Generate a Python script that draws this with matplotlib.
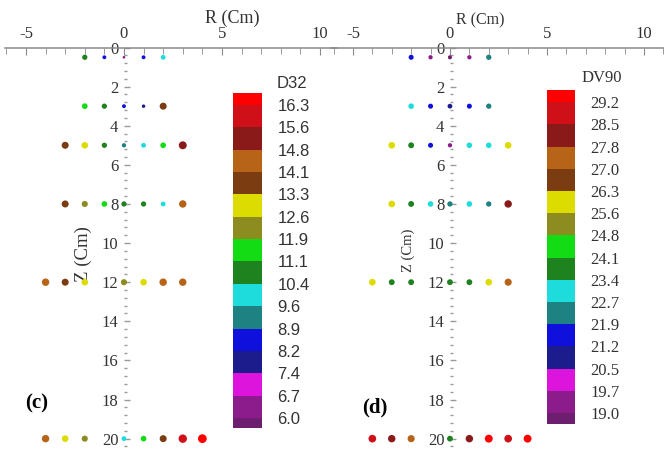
import matplotlib
matplotlib.use('Agg')
import matplotlib.pyplot as plt
from matplotlib.colors import ListedColormap, BoundaryNorm
from matplotlib.cm import ScalarMappable
from matplotlib.ticker import MultipleLocator
import numpy as np

plt.rcParams['axes.unicode_minus'] = False

# band colours, low -> high
band_colours = ['#6e1e6e', '#8c1c8c', '#dc14dc', '#1c1c8c', '#1010dc', '#1e8282',
                '#1edcdc', '#1e821e', '#14dc14', '#8c8c20', '#dcdc00', '#7a3c10',
                '#b86418', '#8a1a1a', '#d01018', '#ff0000']

d32_levels = [6.0, 6.7, 7.4, 8.2, 8.9, 9.6, 10.4, 11.1, 11.9, 12.6, 13.3, 14.1, 14.8, 15.6, 16.3]
dv90_levels = [19.0, 19.7, 20.5, 21.2, 21.9, 22.7, 23.4, 24.1, 24.8, 25.6, 26.3, 27.0, 27.8, 28.5, 29.2]

# panel (c): D32
c_r = [-2, -1, 0, 1, 2,
       -2, -1, 0, 1, 2,
       -3, -2, -1, 0, 1, 2, 3,
       -3, -2, -1, 0, 1, 2, 3,
       -4, -3, -2, 0, 1, 2, 3,
       -4, -3, -2, 0, 1, 2, 3, 4]
c_z = [0.5, 0.5, 0.5, 0.5, 0.5,
       3, 3, 3, 3, 3,
       5, 5, 5, 5, 5, 5, 5,
       8, 8, 8, 8, 8, 8, 8,
       12, 12, 12, 12, 12, 12, 12,
       20, 20, 20, 20, 20, 20, 20, 20]
c_val = [10.8, 8.5, 6.4, 8.5, 10.0,
         11.5, 10.8, 8.5, 7.8, 13.7,
         13.7, 13.0, 10.8, 9.2, 10.0, 11.5, 15.2,
         13.7, 12.2, 11.5, 10.8, 10.8, 10.0, 14.4,
         14.4, 13.7, 13.0, 12.2, 13.0, 14.4, 14.4,
         14.4, 13.0, 12.2, 10.0, 11.5, 13.7, 16.0, 16.6]

# panel (d): DV90
d_r = [-2, -1, 0, 1, 2,
       -2, -1, 0, 1, 2,
       -3, -2, -1, 0, 1, 2, 3,
       -3, -2, -1, 0, 1, 2, 3,
       -4, -3, -2, 0, 1, 2, 3,
       -4, -3, -2, 0, 1, 2, 3, 4]
d_z = c_z
d_val = [21.5, 19.4, 18.8, 19.4, 22.3,
         23.0, 21.5, 20.8, 21.5, 22.3,
         26.0, 23.8, 21.5, 19.4, 23.0, 23.0, 26.0,
         26.0, 23.8, 23.0, 22.3, 23.0, 22.3, 28.2,
         26.0, 23.8, 23.8, 23.8, 23.8, 26.0, 27.4,
         28.9, 28.2, 27.4, 23.8, 28.2, 29.5, 28.9, 29.5]

SERIF = 'Liberation Serif'
SANS = 'Liberation Sans'
W, H = 664, 450
cmap = ListedColormap(band_colours)

fig = plt.figure(figsize=(W / 100, H / 100), dpi=100)


def px_box(x0, y0, x1, y1):
    return [x0 / W, 1 - y1 / H, (x1 - x0) / W, (y1 - y0) / H]


def panel(box, xlim, r, z, vals, levels, size_fn, lab_fs, xlab_xy, ylab_xy, tag, tag_xy):
    ax = fig.add_axes(px_box(*box))
    norm = BoundaryNorm(levels, len(band_colours), extend='both')
    sizes = [size_fn(v) for v in vals]
    ax.scatter(r, z, c=vals, cmap=cmap, norm=norm, s=sizes, linewidths=0, clip_on=False, zorder=3)
    ax.set_xlim(*xlim)
    ax.set_ylim(20.58, 0)
    for side in ['bottom', 'right']:
        ax.spines[side].set_visible(False)
    ax.spines['top'].set_color('#8a8a8a')
    ax.spines['top'].set_linewidth(1.1)
    ax.spines['left'].set_position(('data', 0))
    ax.spines['left'].set_color('none')
    ax.xaxis.tick_top()
    ax.xaxis.set_major_locator(MultipleLocator(5))
    ax.xaxis.set_minor_locator(MultipleLocator(1))
    ax.yaxis.set_major_locator(MultipleLocator(2))
    ax.yaxis.set_minor_locator(MultipleLocator(0.4))
    ax.tick_params(axis='x', which='both', direction='in', color='#8a8a8a', pad=4,
                   labelsize=12, labelcolor='#333333')
    ax.tick_params(axis='x', which='major', length=5)
    ax.tick_params(axis='x', which='minor', length=4)
    ax.tick_params(axis='y', which='both', direction='in', color='#9a9a9a', pad=4,
                   labelsize=12, labelcolor='#333333')
    ax.tick_params(axis='y', which='major', length=4.5, width=1)
    ax.tick_params(axis='y', which='minor', length=2.5, width=1)
    for lab in ax.get_xticklabels() + ax.get_yticklabels():
        lab.set_family(SERIF)
    ax.patch.set_alpha(0)
    ax.xaxis.set_label_position('top')
    ax.set_xlabel('R (Cm)', family=SERIF, fontsize=lab_fs[0], color='#333333')
    ax.xaxis.label.set_va('center')
    ax.xaxis.set_label_coords(*xlab_xy)
    ax.set_ylabel('Z (Cm)', family=SERIF, fontsize=lab_fs[1], color='#333333')
    ax.yaxis.label.set_va('center')
    ax.yaxis.set_label_coords(*ylab_xy)
    fig.text(tag_xy[0] / W, 1 - tag_xy[1] / H, tag, family=SERIF, fontsize=15,
             fontweight='bold', ha='left', va='center', color='black')
    return norm


def cbar(norm, box, levels, fam, title, title_xy, ext):
    cax = fig.add_axes(px_box(*box))
    cb = fig.colorbar(ScalarMappable(norm=norm, cmap=cmap), cax=cax, extend='both',
                      extendrect=True, extendfrac=ext, spacing='uniform')
    cb.outline.set_visible(False)
    cb.set_ticks(levels)
    cb.set_ticklabels(['%.1f' % v for v in levels])
    cax.tick_params(length=0, pad=11, labelsize=12, labelcolor='#333333')
    for lab in cax.get_yticklabels():
        lab.set_family(fam)
    fig.text(title_xy[0] / W, 1 - title_xy[1] / H, title, family=fam, fontsize=12,
             ha='left', va='center', color='#333333')


norm_c = panel((5, 47.5, 337, 450), (-6.07, 10.87), c_r, c_z, c_val, d32_levels,
               lambda v: (0.72 * 0.6 * (v - 2.0)) ** 2, (13, 13.5),
               (0.684, 1.072), (0.235, 0.486), '(c)', (25, 403))
cbar(norm_c, (233, 93, 262, 428), d32_levels, SANS, 'D32', (277, 84), [0.032, 0.038])

norm_d = panel((331, 47.5, 664, 450), (-6.13, 11.03), d_r, d_z, d_val, dv90_levels,
               lambda v: (0.72 * 0.36 * (v - 7.5)) ** 2, (11.5, 10.5),
               (0.447, 1.068), (0.231, 0.496), '(d)', (362, 407))
cbar(norm_d, (547, 90, 575, 424), dv90_levels, SERIF, 'DV90', (582, 78), [0.035, 0.039])

fig.savefig('out.png', dpi=100)
